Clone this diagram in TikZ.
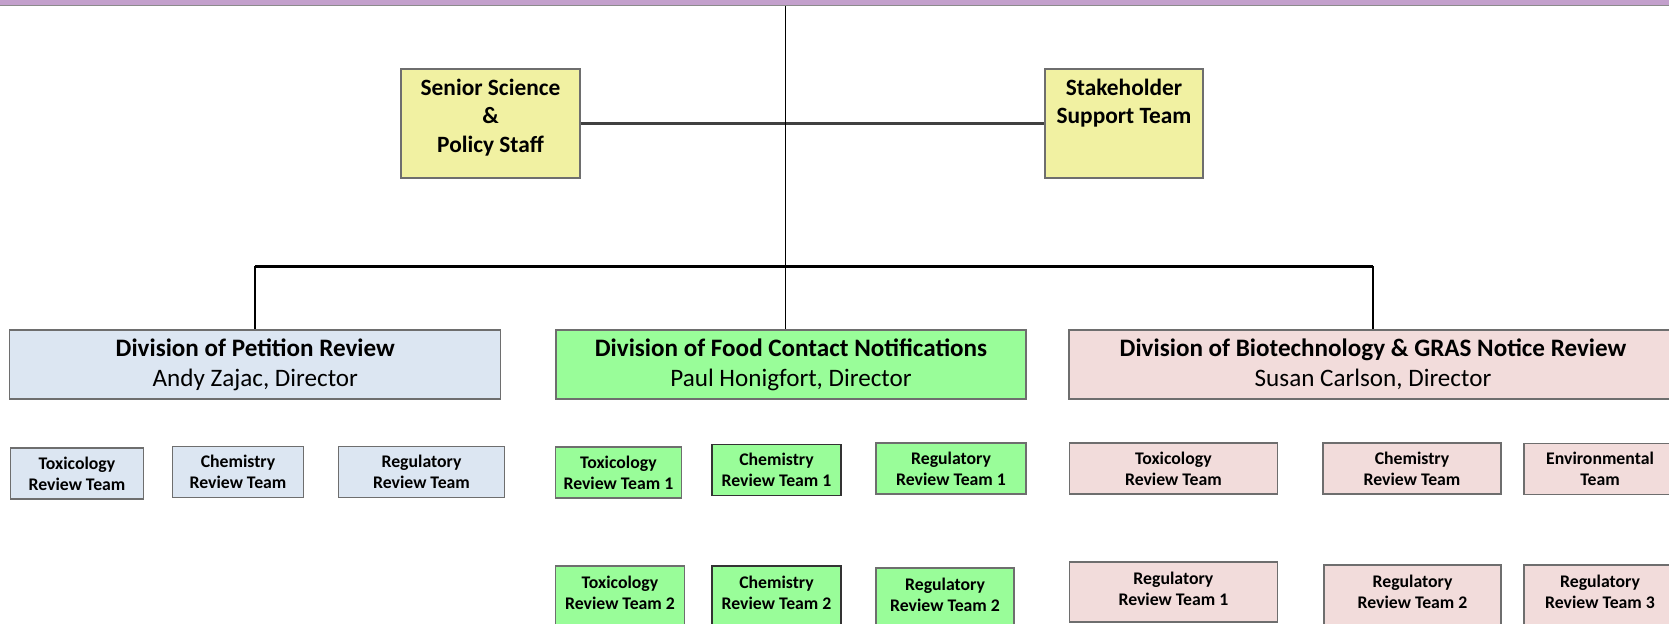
\documentclass[tikz,border=0pt]{standalone}
\usepackage{fontspec}
\setmainfont{Carlito}
\usetikzlibrary{positioning, calc}
\definecolor{orgPurple}{RGB}{195, 160, 204}
\definecolor{orgYellow}{RGB}{241, 241, 162}
\definecolor{orgBlue}{RGB}{220, 230, 242}
\definecolor{orgGreen}{RGB}{153, 253, 153}
\definecolor{orgPink}{RGB}{242, 220, 219}
\definecolor{orgGray}{RGB}{110, 110, 110}

\begin{document}
\begin{tikzpicture}[x=0.02cm, y=-0.02cm,
            box/.style={rectangle, draw=orgGray, line width=0.7pt, align=center, inner sep=2pt},
            staffbox/.style={box, fill=orgYellow, minimum height=2.18cm,
                        font=\fontsize{13.3}{16.3}\selectfont\bfseries},
            divbox/.style={box, minimum height=1.38cm, font=\fontsize{14.3}{17}\selectfont},
            teambox/.style={box, minimum height=1.02cm, font=\fontsize{10.1}{12}\selectfont\bfseries},
            lowbox/.style={teambox, minimum height=1.2cm, text depth=3.6pt},
            link/.style={line width=1.1pt, black}
        ]
            \clip (0,0) rectangle (1669,623);
            \fill[white] (0,0) rectangle (1669,623);

            % Office bar on top
            \node[box, fill=orgPurple, draw=orgGray!80, minimum width=33.5cm, minimum height=0.11cm, inner sep=0pt] (office) at (834.5,2.5) {};

            % Staff offices
            \node[staffbox, minimum width=3.58cm, text depth=9pt] (senior) at (490.5,123.5) {Senior Science\\\&\\Policy Staff};
            \node[staffbox, minimum width=3.16cm, text depth=25.3pt] (stake) at (1124,123.5) {Stakeholder\\Support Team};

            % Divisions
            \node[divbox, fill=orgBlue, minimum width=9.82cm] (petition) at (255.3,364.5) {\textbf{Division of Petition Review}\\Andy Zajac, Director};
            \node[divbox, fill=orgGreen, minimum width=9.4cm] (food) at (791,364.5) {\textbf{Division of Food Contact Notifications}\\Paul Honigfort, Director};
            \node[divbox, fill=orgPink, minimum width=12.16cm] (biotech) at (1373,364.5) {\textbf{Division of Biotechnology \& GRAS Notice Review}\\Susan Carlson, Director};

            % Petition review teams
            \node[teambox, fill=orgBlue, minimum width=2.66cm] (ptox) at (77,473.5) {Toxicology\\Review Team};
            \node[teambox, fill=orgBlue, minimum width=2.62cm] (pchem) at (238,472) {Chemistry\\Review Team};
            \node[teambox, fill=orgBlue, minimum width=3.32cm] (preg) at (421.5,472) {Regulatory\\Review Team};

            % Food contact teams
            \node[teambox, fill=orgGreen, minimum width=2.51cm] (ftoxa) at (618.4,472.5) {Toxicology\\Review Team 1};
            \node[teambox, fill=orgGreen, draw=black!80, minimum width=2.58cm] (fchema) at (776.5,470) {Chemistry\\Review Team 1};
            \node[teambox, fill=orgGreen, minimum width=3.0cm] (frega) at (951,468.5) {Regulatory\\Review Team 1};
            \node[lowbox, fill=orgGreen, minimum width=2.58cm] (ftoxb) at (620,596) {Toxicology\\Review Team 2};
            \node[lowbox, fill=orgGreen, draw=black!80, minimum width=2.58cm] (fchemb) at (776.5,596) {Chemistry\\Review Team 2};
            \node[lowbox, fill=orgGreen, minimum width=2.76cm] (fregb) at (945,598) {Regulatory\\Review Team 2};

            % Biotechnology teams
            \node[teambox, fill=orgPink, minimum width=4.15cm] (btox) at (1173.4,468.5) {Toxicology\\Review Team};
            \node[teambox, fill=orgPink, minimum width=3.56cm] (bchem) at (1412,468.5) {Chemistry\\Review Team};
            \node[teambox, fill=orgPink, minimum width=3.04cm] (benv) at (1600,469) {Environmental\\Team};
            \node[lowbox, fill=orgPink, minimum width=4.15cm] (brega) at (1173.4,592) {Regulatory\\Review Team 1};
            \node[lowbox, fill=orgPink, minimum width=3.54cm] (bregb) at (1412.5,595) {Regulatory\\Review Team 2};
            \node[lowbox, fill=orgPink, minimum width=3.04cm] (bregc) at (1600,595) {Regulatory\\Review Team 3};

            % Lines
            \coordinate (bus) at (785.5,266);
            \draw[link, black!75, line width=1.3pt] (senior.east) -- (stake.west);
            \draw[link] (office.south -| bus) -- (bus |- food.north);
            \draw[link, line width=1.7pt] (petition.north |- bus) -- (biotech.north |- bus);
            \draw[link] (petition.north |- bus) -- (petition.north);
            \draw[link] (biotech.north |- bus) -- (biotech.north);
        \end{tikzpicture}
\end{document}
